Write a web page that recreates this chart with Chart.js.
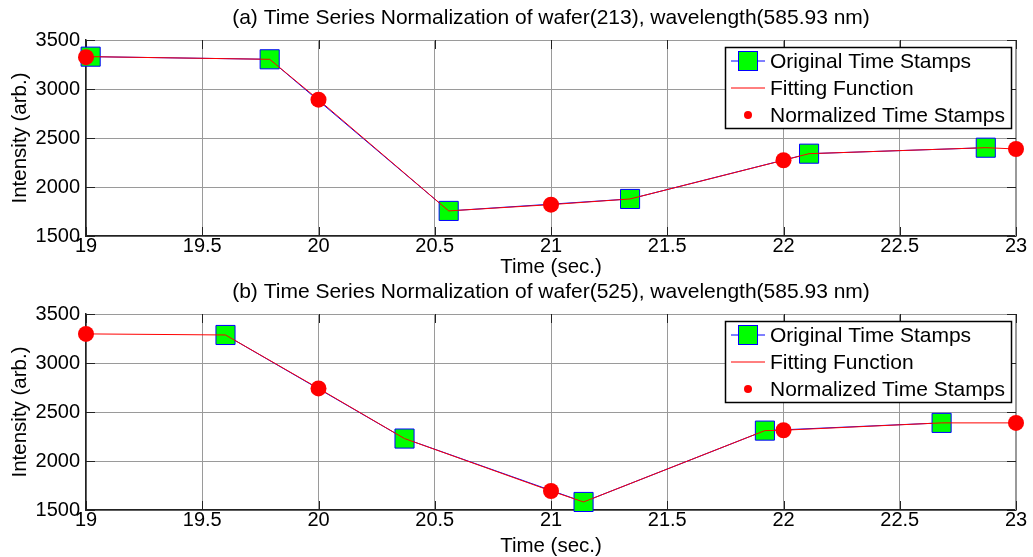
<!DOCTYPE html>
<html>
<head>
<meta charset="utf-8">
<title>Time Series Normalization</title>
<script src="https://cdn.jsdelivr.net/npm/chart.js@4"></script>
<style>
  body { margin: 0; background: #fff; }
  #wrap { position: relative; width: 1033px; height: 557px; }
  canvas { position: absolute; left: 0; }
</style>
</head>
<body>
<div id="wrap">
  <canvas id="chartA" width="1033" height="278" style="top:0"></canvas>
  <canvas id="chartB" width="1033" height="279" style="top:278px"></canvas>
</div>
<script>
const xTicks = [19, 19.5, 20, 20.5, 21, 21.5, 22, 22.5, 23];
const yTicks = [1500, 2000, 2500, 3000, 3500];

// (a) wafer 213
const origTimeA = [19.02, 19.79, 20.56, 21.34, 22.11, 22.87];
const origValA = [3330, 3303, 1756, 1878, 2340, 2401];
const normTimeA = [19, 20, 21, 22, 23];
const normValA = [3325, 2891, 1820, 2273, 2388];
const fitTimeA = [19, 19.02, 19.79, 20, 20.56, 21, 21.34, 22, 22.11, 22.87, 23];
const fitValA = [3325, 3330, 3303, 2891, 1756, 1820, 1878, 2273, 2340, 2401, 2388];

// (b) wafer 525
const origTimeB = [19.60, 20.37, 21.14, 21.92, 22.68];
const origValB = [3286, 2229, 1582, 2310, 2389];
const normTimeB = [19, 20, 21, 22, 23];
const normValB = [3297, 2741, 1694, 2314, 2389];
const fitTimeB = [19, 19.60, 20, 20.37, 21, 21.14, 21.92, 22, 22.68, 23];
const fitValB = [3297, 3286, 2741, 2229, 1694, 1582, 2310, 2314, 2389, 2389];

const legendLabels = ["Original Time Stamps", "Fitting Function", "Normalized Time Stamps"];

const FONT = "'Liberation Sans', Arial, sans-serif";
const GRID = "#9a9a9a";

const toPoints = (xs, ys) => xs.map((x, i) => ({ x: x, y: ys[i] }));

// matlab-ish box: inward ticks, grey top/right edge, boxed legend
const matlabAxes = {
  id: "matlabAxes",
  beforeDatasetsDraw(chart) {
    const { ctx, chartArea: a, scales } = chart;
    ctx.save();
    ctx.strokeStyle = GRID;
    ctx.lineWidth = 1;
    ctx.beginPath();
    ctx.moveTo(a.left, a.top + 0.5);
    ctx.lineTo(a.right, a.top + 0.5);
    ctx.moveTo(a.right - 0.5, a.top);
    ctx.lineTo(a.right - 0.5, a.bottom);
    ctx.stroke();

    ctx.strokeStyle = "#222";
    ctx.beginPath();
    xTicks.forEach(v => {
      const px = Math.round(scales.x.getPixelForValue(v)) + 0.5;
      ctx.moveTo(px, a.bottom);
      ctx.lineTo(px, a.bottom - 9);
      ctx.moveTo(px, a.top);
      ctx.lineTo(px, a.top + 9);
    });
    yTicks.forEach(v => {
      const py = Math.round(scales.y.getPixelForValue(v)) + 0.5;
      ctx.moveTo(a.left, py);
      ctx.lineTo(a.left + 9, py);
      ctx.moveTo(a.right, py);
      ctx.lineTo(a.right - 9, py);
    });
    ctx.stroke();
    ctx.restore();
  },
  afterDraw(chart) {
    const { ctx, chartArea: a } = chart;
    const lx = a.right - 291, ly = a.top + 7, lw = 286, lh = 81;
    ctx.save();
    ctx.fillStyle = "#fff";
    ctx.fillRect(lx, ly, lw, lh);
    ctx.strokeStyle = "#000";
    ctx.lineWidth = 1.5;
    ctx.strokeRect(lx + 0.5, ly + 0.5, lw, lh);

    const mx = lx + 23;
    const rows = [ly + 14, ly + 41, ly + 68];

    // original: blue line + green square
    ctx.strokeStyle = "#0000ff";
    ctx.lineWidth = 1;
    ctx.beginPath();
    ctx.moveTo(lx + 6, rows[0]);
    ctx.lineTo(lx + 40, rows[0]);
    ctx.stroke();
    ctx.fillStyle = "#00ff00";
    ctx.fillRect(mx - 9.5, rows[0] - 9.5, 19, 19);
    ctx.strokeRect(mx - 9.5, rows[0] - 9.5, 19, 19);

    // fitting: red line
    ctx.strokeStyle = "#ff0000";
    ctx.beginPath();
    ctx.moveTo(lx + 6, rows[1]);
    ctx.lineTo(lx + 40, rows[1]);
    ctx.stroke();

    // normalized: red dot
    ctx.fillStyle = "#ff0000";
    ctx.beginPath();
    ctx.arc(mx, rows[2], 4, 0, Math.PI * 2);
    ctx.fill();

    ctx.fillStyle = "#000";
    ctx.font = "21px " + FONT;
    ctx.textBaseline = "middle";
    legendLabels.forEach((t, i) => ctx.fillText(t, lx + 45, rows[i] + 1));
    ctx.restore();
  }
};

function makeChart(id, title, orig, norm, fit, titlePad, xAxisH) {
  return new Chart(document.getElementById(id), {
    type: "scatter",
    data: {
      datasets: [
        {
          label: legendLabels[2],
          data: norm,
          showLine: false,
          clip: false,
          pointStyle: "circle",
          pointRadius: 8,
          pointBackgroundColor: "#ff0000",
          pointBorderWidth: 0,
          order: 0
        },
        {
          label: legendLabels[1],
          data: fit,
          showLine: true,
          clip: false,
          borderColor: "#ff0000",
          borderWidth: 1,
          pointRadius: 0,
          order: 1
        },
        {
          label: legendLabels[0],
          data: orig,
          showLine: true,
          clip: false,
          borderColor: "#0000ff",
          borderWidth: 1,
          pointStyle: "rect",
          pointRadius: 13.5,
          pointBackgroundColor: "#00ff00",
          pointBorderColor: "#0000ff",
          pointBorderWidth: 1,
          order: 2
        }
      ]
    },
    options: {
      responsive: false,
      animation: false,
      events: [],
      layout: { padding: { left: 0, right: 17, top: 0, bottom: 0 } },
      plugins: {
        legend: { display: false },
        tooltip: { enabled: false },
        title: {
          display: true,
          text: title,
          fullSize: false,
          color: "#000",
          font: { family: FONT, size: 21, weight: "normal" },
          padding: titlePad
        }
      },
      scales: {
        x: {
          type: "linear",
          min: 19,
          max: 23,
          afterBuildTicks: s => { s.ticks = xTicks.map(v => ({ value: v })); },
          afterFit: s => { s.height = xAxisH; },
          ticks: {
            color: "#000",
            font: { family: FONT, size: 20 },
            padding: -2,
            maxRotation: 0,
            callback: v => String(v)
          },
          grid: { color: GRID, drawTicks: false },
          border: { display: true, color: "#222", width: 1.5 },
          title: {
            display: true,
            text: "Time (sec.)",
            color: "#000",
            font: { family: FONT, size: 20.5, lineHeight: 1 },
            padding: { top: 0, bottom: 0 }
          }
        },
        y: {
          min: 1500,
          max: 3500,
          afterBuildTicks: s => { s.ticks = yTicks.map(v => ({ value: v })); },
          afterFit: s => { s.width = 86; },
          ticks: {
            color: "#000",
            font: { family: FONT, size: 20 },
            padding: 6,
            callback: v => String(v)
          },
          grid: { color: GRID, drawTicks: false },
          border: { display: true, color: "#222", width: 1.5 },
          title: {
            display: true,
            text: "Intensity (arb.)",
            color: "#000",
            font: { family: FONT, size: 20.5, lineHeight: 1 },
            padding: { top: 10, bottom: 0 }
          }
        }
      }
    },
    plugins: [matlabAxes]
  });
}

makeChart("chartA", "(a) Time Series Normalization of wafer(213), wavelength(585.93 nm)",
  toPoints(origTimeA, origValA), toPoints(normTimeA, normValA), toPoints(fitTimeA, fitValA),
  { top: 6, bottom: 8.8 }, 42);

makeChart("chartB", "(b) Time Series Normalization of wafer(525), wavelength(585.93 nm)",
  toPoints(origTimeB, origValB), toPoints(normTimeB, normValB), toPoints(fitTimeB, fitValB),
  { top: 2, bottom: 8.8 }, 47);
</script>
</body>
</html>
